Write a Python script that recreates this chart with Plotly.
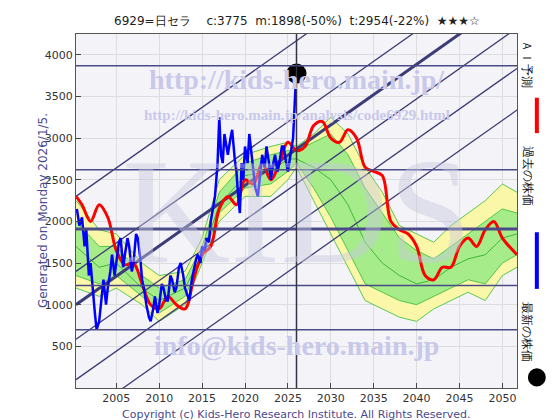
import plotly.graph_objects as go

# past prices (blue)
past_x = [2000.4, 2000.7, 2001, 2001.3, 2001.5, 2001.8, 2002, 2002.3, 2002.5, 2002.7, 2003, 2003.3, 2003.5,
          2003.8, 2004, 2004.3, 2004.5, 2004.8, 2005, 2005.3, 2005.5, 2005.8, 2006, 2006.3, 2006.5, 2006.8,
          2007, 2007.3, 2007.5, 2007.8, 2008, 2008.3, 2008.5, 2008.8, 2009, 2009.3, 2009.5, 2009.8, 2010,
          2010.3, 2010.5, 2010.8, 2011, 2011.3, 2011.5, 2011.8, 2012, 2012.3, 2012.5, 2012.8, 2013, 2013.3,
          2013.5, 2013.8, 2014, 2014.3, 2014.5, 2014.8, 2015, 2015.3, 2015.5, 2015.8, 2016, 2016.3, 2016.5,
          2016.8, 2017, 2017.2, 2017.4, 2017.6, 2017.8, 2018, 2018.3, 2018.5, 2018.8, 2019, 2019.2, 2019.4,
          2019.6, 2019.8, 2020, 2020.3, 2020.5, 2020.8, 2021, 2021.2, 2021.5, 2021.8, 2022, 2022.3, 2022.5,
          2022.8, 2023, 2023.3, 2023.5, 2023.8, 2024, 2024.3, 2024.5, 2024.8, 2025, 2025.3, 2025.6, 2025.9]
past_y = [2150, 1950, 2050, 1700, 1900, 1350, 1500, 1100, 900, 700, 800, 1100, 1300, 1000, 1200, 1400, 1600,
          1350, 1500, 1750, 1800, 1450, 1600, 1800, 1700, 1400, 1500, 1850, 1800, 1550, 1300, 1150, 1000,
          850, 800, 950, 1100, 900, 1000, 1250, 1200, 1050, 1050, 1350, 1300, 1150, 1200, 1450, 1500, 1350,
          1200, 1100, 1050, 1300, 1400, 1550, 1600, 1500, 1700, 1650, 1800, 1750, 2000, 2200, 2300, 2700,
          3250, 2800, 2700, 3050, 2900, 2800, 3000, 3100, 2750, 2600, 2300, 2100, 2700, 2500, 2900, 2700,
          3050, 2800, 2600, 2400, 2300, 2600, 2800, 2650, 2900, 2700, 2500, 2700, 2800, 2600, 2700, 2900,
          2900, 2700, 2600, 2800, 3000, 3650]

# AI forecast (red)
ai_x = [2000.3, 2001, 2002, 2003, 2004, 2005, 2006, 2007, 2008, 2009, 2010, 2011, 2012, 2013, 2014, 2015,
        2016, 2017, 2018, 2019, 2020, 2021, 2022, 2023, 2024, 2025, 2026, 2027, 2028, 2029, 2030, 2031,
        2032, 2033, 2034, 2035, 2036, 2037, 2038, 2039, 2040, 2041, 2042, 2043, 2044, 2045, 2046, 2047,
        2048, 2049, 2050, 2051.7]
ai_y = [2300, 2200, 2000, 2200, 2050, 1650, 1480, 1500, 1250, 1000, 950, 1100, 1000, 950, 1300, 1600,
        1700, 2150, 2300, 2200, 2500, 2450, 2700, 2500, 2700, 2950, 2850, 2900, 3150, 3200, 3000, 2950,
        3100, 3000, 2650, 2600, 2550, 2000, 1900, 1850, 1700, 1350, 1300, 1450, 1450, 1700, 1800, 1700,
        1900, 2000, 1800, 1600]

# forecast envelope (yellow outer, green inner)
band_x = [2000.3, 2003, 2005, 2008, 2010, 2013, 2015, 2017, 2020, 2023, 2025, 2026, 2028, 2030, 2032,
          2034, 2036, 2038, 2040, 2042, 2044, 2046, 2048, 2050, 2051.7]
outer_hi = [2250, 1900, 1850, 1500, 1350, 1400, 1800, 2500, 2800, 2900, 2950, 2900, 3050, 3250, 3050,
            2650, 2350, 1950, 1850, 1750, 1950, 2100, 2250, 2450, 2350]
outer_lo = [1200, 1100, 1200, 1000, 800, 1000, 1500, 2000, 2300, 2300, 2500, 2650, 2250, 1850, 1450,
            1050, 950, 850, 800, 950, 1050, 1150, 1050, 1350, 1450]
inner_hi = [2000, 1700, 1700, 1350, 1200, 1300, 1700, 2350, 2700, 2800, 2850, 2850, 2950, 3050, 2800,
            2400, 2100, 1800, 1650, 1550, 1700, 1850, 2000, 2150, 2100]
inner_lo = [1350, 1250, 1350, 1100, 900, 1100, 1550, 2100, 2400, 2450, 2600, 2700, 2400, 2050, 1650,
            1250, 1150, 1050, 1000, 1100, 1200, 1300, 1250, 1500, 1600]
mid_line = [1700, 1450, 1500, 1200, 1050, 1200, 1600, 2200, 2550, 2600, 2750, 2750, 2650, 2500, 2200,
            1750, 1500, 1350, 1250, 1300, 1450, 1550, 1600, 1800, 1850]

h_levels = [3870, 2620, 1230, 700]
h_main = 1910
trend_offsets = [1300, 400, -415, -900, -1400]
latest_x, latest_y = 2026.0, 3775

X0, X1 = 2000.3, 2051.7
slope = 72.7

fig = go.Figure()
fig.add_trace(go.Scatter(x=band_x, y=outer_hi, mode="lines", line=dict(color="#33bb33", width=0.8)))
fig.add_trace(go.Scatter(x=band_x, y=outer_lo, mode="lines", fill="tonexty", fillcolor="#fbf7a8",
                         line=dict(color="#33bb33", width=0.8)))
fig.add_trace(go.Scatter(x=band_x, y=inner_hi, mode="lines", line=dict(color="#33bb33", width=0.8)))
fig.add_trace(go.Scatter(x=band_x, y=inner_lo, mode="lines", fill="tonexty", fillcolor="#a6ec8a",
                         line=dict(color="#33bb33", width=0.8)))
fig.add_trace(go.Scatter(x=band_x, y=mid_line, mode="lines", line=dict(color="#22aa22", width=0.8)))

# trend lines
def trend(off, w):
    fig.add_trace(go.Scatter(x=[X0, X1], y=[1000 + off, 1000 + off + slope * (X1 - X0)], mode="lines",
                             line=dict(color="#3c3c78", width=w)))
trend(0, 3)
for o in trend_offsets:
    trend(o, 1.3)
for lv in h_levels:
    fig.add_hline(y=lv, line=dict(color="#4a4a88", width=1.5))
fig.add_hline(y=h_main, line=dict(color="#4a4a88", width=3))
fig.add_vline(x=latest_x, line=dict(color="#333344", width=1.5))

fig.add_trace(go.Scatter(x=ai_x, y=ai_y, mode="lines", line=dict(color="#ff0000", width=3, shape="spline")))
fig.add_trace(go.Scatter(x=past_x, y=past_y, mode="lines", line=dict(color="#0000ff", width=2.5)))
fig.add_trace(go.Scatter(x=[latest_x], y=[latest_y], mode="markers", cliponaxis=False,
                         marker=dict(color="black", size=20)))

wm = "#c8c8ea"
fig.add_annotation(x=0.5, y=0.5, xref="paper", yref="paper", text="KIDS", showarrow=False,
                   font=dict(size=150, color="rgba(200,200,225,0.45)", family="Liberation Serif"))
fig.add_annotation(x=0.5, y=0.92, xref="paper", yref="paper", text="<b>http://kids-hero.main.jp/</b>",
                   showarrow=False, font=dict(size=28, color=wm, family="Liberation Serif"))
fig.add_annotation(x=0.5, y=0.8, xref="paper", yref="paper",
                   text="<b>http://kids-hero.main.jp/analysis/code6929.html</b>",
                   showarrow=False, font=dict(size=15, color=wm, family="Liberation Serif"))
fig.add_annotation(x=0.5, y=0.07, xref="paper", yref="paper", text="<b>info@kids-hero.main.jp</b>",
                   showarrow=False, font=dict(size=28, color=wm, family="Liberation Serif"))

fig.add_annotation(x=0.5, y=1.01, xref="paper", yref="paper", yanchor="bottom",
                   text="6929=日セラ　 c:3775  m:1898(-50%)  t:2954(-22%)  ★★★☆",
                   showarrow=False, font=dict(size=12, color="#222"))
fig.add_annotation(x=-0.095, y=0.5, xref="paper", yref="paper", text="Generated on Monday 2026/1/5.",
                   textangle=-90, showarrow=False, font=dict(size=12, color="#4a4a90"))
fig.add_annotation(x=0.5, y=-0.05, xref="paper", yref="paper", yanchor="top",
                   text="Copyright (c) Kids-Hero Research Institute. All Rights Reserved.",
                   showarrow=False, font=dict(size=11, color="#4a4a90"))

# right legend
fig.add_annotation(x=1.045, y=0.99, xref="paper", yref="paper", yanchor="top", text="ＡＩ予測",
                   textangle=90, showarrow=False, font=dict(size=12, color="#111"))
fig.add_shape(type="line", xref="paper", yref="paper", x0=1.045, x1=1.045, y0=0.72, y1=0.82,
              line=dict(color="red", width=4))
fig.add_annotation(x=1.045, y=0.69, xref="paper", yref="paper", yanchor="top", text="過去の株価",
                   textangle=90, showarrow=False, font=dict(size=12, color="#111"))
fig.add_shape(type="line", xref="paper", yref="paper", x0=1.045, x1=1.045, y0=0.28, y1=0.44,
              line=dict(color="blue", width=4))
fig.add_annotation(x=1.045, y=0.25, xref="paper", yref="paper", yanchor="top", text="最新の株価",
                   textangle=90, showarrow=False, font=dict(size=12, color="#111"))
fig.add_shape(type="circle", xref="paper", yref="paper", x0=1.027, x1=1.063, y0=0.007, y1=0.053,
              fillcolor="black", line=dict(color="black"))

fig.update_layout(
    width=560, height=420, showlegend=False,
    margin=dict(l=68, r=51, t=26, b=40),
    paper_bgcolor="white", plot_bgcolor="#f4f4f8",
    font=dict(family="DejaVu Sans", size=11, color="#333"),
    xaxis=dict(range=[X0, X1], tickvals=[2005, 2010, 2015, 2020, 2025, 2030, 2035, 2040, 2045, 2050],
               showgrid=True, gridcolor="#dddddd", mirror=True, showline=True, linecolor="#555",
               ticks="inside", zeroline=False),
    yaxis=dict(range=[0, 4250], tickvals=[500, 1000, 1500, 2000, 2500, 3000, 3500, 4000],
               showgrid=True, gridcolor="#dddddd", mirror=True, showline=True, linecolor="#555",
               ticks="inside", zeroline=False),
)
fig.write_html("out.html")
